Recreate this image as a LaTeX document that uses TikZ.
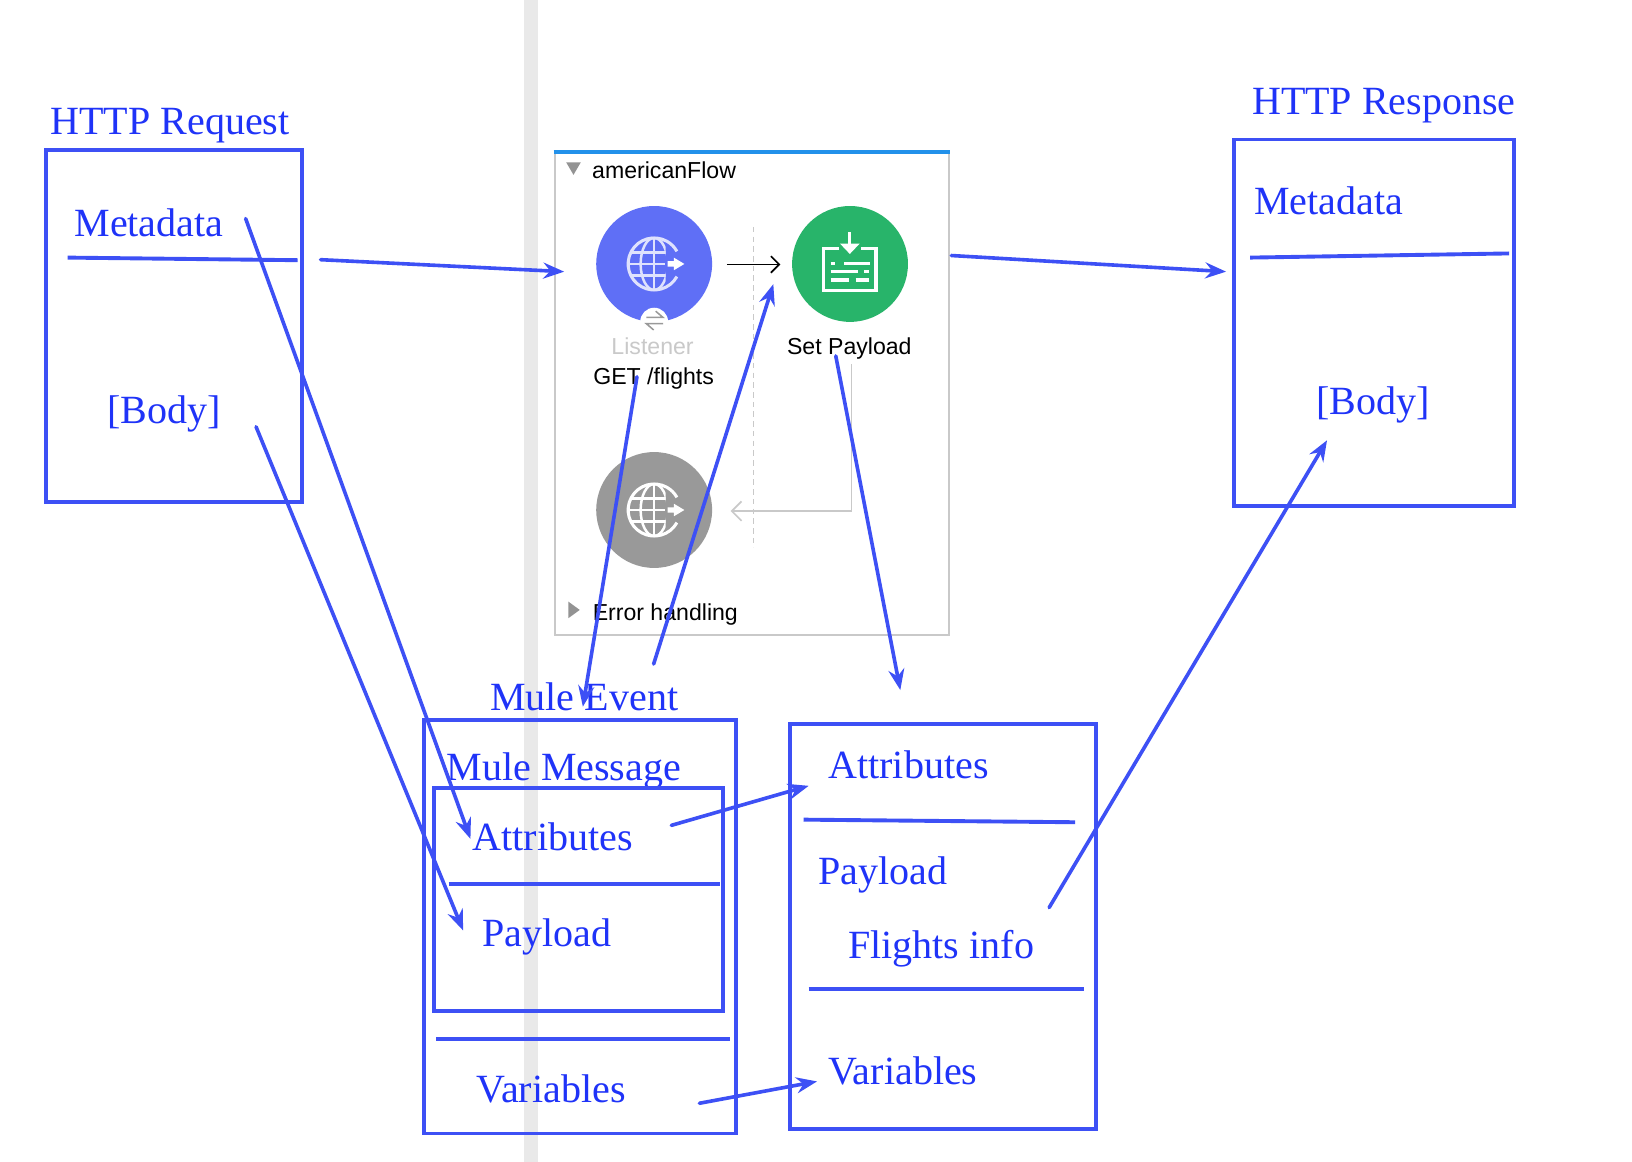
\documentclass[tikz,border=0pt]{standalone}
\usepackage{fontspec}
\setmainfont{Liberation Serif}
\newfontfamily\uifont{Liberation Sans}
\usetikzlibrary{arrows.meta,calc}
\definecolor{ann}{HTML}{3D50F5}
\definecolor{anntext}{HTML}{1F33F8}
\definecolor{band}{HTML}{E9E9E9}
\definecolor{frameg}{HTML}{C9C9C9}
\definecolor{flowtop}{HTML}{2291EA}
\definecolor{lis}{HTML}{5F6FF6}
\definecolor{setp}{HTML}{28B46A}
\definecolor{gcirc}{HTML}{999999}
\tikzset{
  annbox/.style={draw=ann,line width=2.8pt},
  annline/.style={draw=ann,line width=2.8pt},
  annarrow/.style={draw=ann,line width=2.6pt,line cap=round,-{Stealth[length=15pt,width=11.5pt,inset=5pt]}},
  lbl/.style={anchor=base west,inner sep=0pt,outer sep=0pt,text=anntext,font=\fontsize{28.85}{30}\selectfont},
  ui/.style={inner sep=0pt,outer sep=0pt,font=\uifont\fontsize{16.65}{18}\selectfont},
  globe/.pic={
    \draw[line width=2.2pt,draw=#1] (29:25) arc[start angle=29,end angle=331,radius=25];
    \begin{scope}
      \clip (-27,-27) rectangle (11,27);
      \draw[line width=1.8pt,draw=#1] (0,0) ellipse[x radius=13,y radius=25];
      \draw[line width=1.8pt,draw=#1] (0,-25) -- (0,25);
      \draw[line width=1.8pt,draw=#1] (-25,0) -- (10,0);
      \draw[line width=1.8pt,draw=#1] (-23,-11) -- (11,-11) (-23,11) -- (11,11);
    \end{scope}
    \fill[white] (13,-2.6) -- (19,-2.6) -- (19,-6) -- (29,0) -- (19,6) -- (19,2.6) -- (13,2.6) -- cycle;
  }
}
\begin{document}
\begin{tikzpicture}[x=0.75pt,y=-0.75pt]
\useasboundingbox (0,0) rectangle (1568,1116);
\fill[white] (0,0) rectangle (1568,1116);
\fill[band] (503,0) rectangle (517,1116);
% flow frame
\fill[white] (533,146) rectangle (912,610);
\draw[frameg,line width=1.5pt] (533,146) rectangle (912,610);
\draw[flowtop,line width=2.8pt] (532,146) -- (913,146);
\fill[gray!85] (544,156) -- (558,156) -- (551,168) -- cycle;
\fill[gray!85] (546,578) -- (546,594) -- (557,586) -- cycle;
\node[ui,anchor=base west] (flowname) at (569,171.7) {americanFlow};
\node[ui,anchor=base west] (errname) at (569.5,596) {Error handling};
% dashed divider
\coordinate (dtop) at (724,218); \coordinate (dbot) at (724,526);
\draw[frameg,line width=1pt,dash pattern=on 4pt off 3pt] (dtop) -- (dbot);
% listener
\node[circle,fill=lis,minimum size=83.5pt,inner sep=0pt] (listener) at (628.5,253.6) {};
\pic at (628.5,253.6) {globe=lis!20!white};
\node[circle,fill=white,minimum size=20pt,inner sep=0pt] (swap) at (628.5,309) {};
\draw[gray!80,line width=1.1pt] (621,305) -- (637,305) -- (630,299);
\draw[gray!80,line width=1.1pt] (637,311) -- (621,311) -- (628,317);
\node[ui,text=frameg,anchor=base] (lname) at (627,340.7) {Listener};
\node[ui,anchor=base] (lpath) at (628,369) {GET /flights};
% set payload
\node[circle,fill=setp,minimum size=83.5pt,inner sep=0pt] (setpay) at (816.7,253.6) {};
\draw[white,line width=2.4pt] (806,239) -- (791.5,239) -- (791.5,279) -- (841.5,279) -- (841.5,239) -- (827,239);
\draw[white,line width=2.2pt] (816.5,223) -- (816.5,236);
\fill[white] (807,234) -- (826,234) -- (816.5,244) -- cycle;
\draw[white,line width=2.2pt] (798,253) -- (802,253) (811,253) -- (836,253)
  (798,261) -- (824,261) (830,261) -- (835,261)
  (798,269) -- (816,269) (822,269) -- (835,269);
\node[ui,anchor=base] (spname) at (816,340.7) {Set Payload};
\draw[black,line width=1.2pt,-{Straight Barb[length=6pt,width=12pt]}] ($(listener.east)+(14,0.5)$) -- ($(setpay.west)+(-11,0.5)$);
% error circle
\node[circle,fill=gcirc,minimum size=83.5pt,inner sep=0pt] (errc) at (628.5,490) {};
\pic at (628.5,490) {globe=white};
% return
\coordinate (rettop) at (818,350); \coordinate (retcorner) at (818,491); \coordinate (retend) at (702,491);
\draw[frameg,line width=1.2pt,-{Straight Barb[length=7pt,width=14pt]}] (rettop) -- (retcorner) -- (retend);
% blue boxes
\node[lbl] (hreq) at (48.5,129) {HTTP Request};
\node[lbl] (hresp) at (1203,110) {HTTP Response};
\node[lbl] (meta1) at (71.5,227) {Metadata};
\node[lbl] (body1) at (103,406.5) {[Body]};
\node[lbl] (meta2) at (1205,206) {Metadata};
\node[lbl] (body2) at (1265,398.5) {[Body]};
\node[lbl] (mev) at (471,683) {Mule Event};
\node[lbl] (mmsg) at (429,750) {Mule Message};
\node[lbl] (attr1) at (454,817.5) {Attributes};
\node[lbl] (pay1) at (463.5,909) {Payload};
\node[lbl] (var1) at (458,1059) {Variables};
\node[lbl] (attr2) at (796,748) {Attributes};
\node[lbl] (pay2) at (786,850) {Payload};
\node[lbl] (fli) at (815,921) {Flights info};
\node[lbl] (var2) at (796,1042) {Variables};
\draw[annbox] (44,144) rectangle (290,482);
\draw[annbox] (1186,134) rectangle (1455,486);
\draw[annbox] (407.5,691.5) rectangle (707,1089);
\draw[annbox] (417,757) rectangle (695,971.5);
\draw[annbox] (759,695.5) rectangle (1053,1085);
\coordinate (l1a) at (65,247.5); \coordinate (l1b) at (286,250);
\coordinate (l2a) at (1201,247.5); \coordinate (l2b) at (1450,243.5);
\coordinate (l3a) at (431,849.5); \coordinate (l3b) at (692,849.5);
\coordinate (l4a) at (419,998.5); \coordinate (l4b) at (701,998.5);
\coordinate (l5a) at (772,787.5); \coordinate (l5b) at (1033,790);
\coordinate (l6a) at (777,950.5); \coordinate (l6b) at (1041,950.5);
\draw[annline] (l1a) -- (l1b);
\draw[annline] (l2a) -- (l2b);
\draw[annline] (l3a) -- (l3b);
\draw[annline] (l4a) -- (l4b);
\draw[annline] (l5a) -- (l5b);
\draw[annline] (l6a) -- (l6b);
% arrows
\coordinate (a1s) at (308,249.5); \coordinate (a1e) at (542,261);
\coordinate (a2s) at (914,245.5); \coordinate (a2e) at (1178,261);
\coordinate (a3s) at (236,210); \coordinate (a3e) at (452,806);
\coordinate (a4s) at (246,410); \coordinate (a4e) at (445,894);
\coordinate (a5s) at (612,362); \coordinate (a5e) at (560,679);
\coordinate (a6s) at (628,638); \coordinate (a6e) at (743,273);
\coordinate (a7s) at (803,342); \coordinate (a7e) at (865,663);
\coordinate (a8s) at (1008,872); \coordinate (a8e) at (1275,423);
\coordinate (a9s) at (645,793); \coordinate (a9e) at (777,755);
\coordinate (a10s) at (672,1060); \coordinate (a10e) at (785,1039);
\foreach \i in {1,...,10} {\draw[annarrow] (a\i s) -- (a\i e);}
\end{tikzpicture}
\end{document}
